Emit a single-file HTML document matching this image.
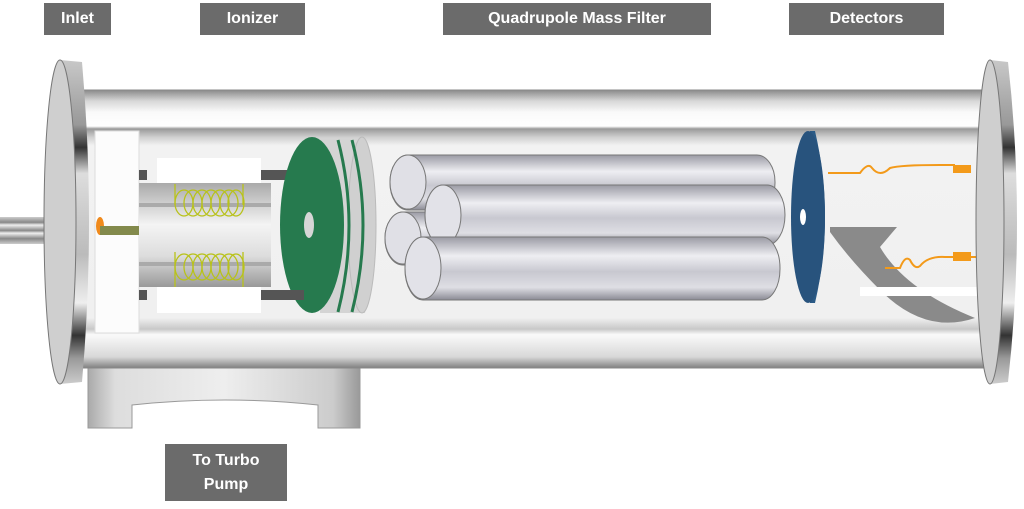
<!DOCTYPE html>
<html><head><meta charset="utf-8"><style>
body{margin:0;width:1024px;height:509px;background:#fff;overflow:hidden;font-family:"Liberation Sans",sans-serif}
.l{position:absolute;background:#6b6b6b;color:#fff;font-weight:bold;font-size:16px;display:flex;align-items:center;justify-content:center;text-align:center;line-height:24px}
</style></head><body>
<svg width="1024" height="509" style="position:absolute;left:0;top:0">
<defs>
<linearGradient id="tube" x1="0" y1="0" x2="0" y2="1">
<stop offset="0" stop-color="#8a8a8a"/><stop offset="0.04" stop-color="#d8d8d8"/><stop offset="0.08" stop-color="#fafafa"/><stop offset="0.13" stop-color="#fff"/><stop offset="0.14" stop-color="#9a9a9a"/><stop offset="0.17" stop-color="#d0d0d0"/><stop offset="0.2" stop-color="#f2f2f2"/><stop offset="0.82" stop-color="#f0f0f0"/><stop offset="0.86" stop-color="#c8c8c8"/><stop offset="0.88" stop-color="#fafafa"/><stop offset="0.96" stop-color="#d8d8d8"/><stop offset="1" stop-color="#808080"/></linearGradient>
<linearGradient id="rim" x1="0" y1="0" x2="0" y2="1">
<stop offset="0" stop-color="#c8c8c8"/><stop offset="0.2" stop-color="#999"/><stop offset="0.27" stop-color="#333"/><stop offset="0.35" stop-color="#ddd"/><stop offset="0.6" stop-color="#bbb"/><stop offset="0.75" stop-color="#eee"/><stop offset="0.85" stop-color="#333"/><stop offset="0.92" stop-color="#999"/><stop offset="1" stop-color="#ccc"/></linearGradient>
<linearGradient id="rod" x1="0" y1="0" x2="0" y2="1">
<stop offset="0" stop-color="#9a9aa4"/><stop offset="0.3" stop-color="#eeeef2"/><stop offset="0.55" stop-color="#c8c8d0"/><stop offset="0.8" stop-color="#dedee4"/><stop offset="1" stop-color="#8a8a94"/></linearGradient>
<linearGradient id="cyl" x1="0" y1="0" x2="0" y2="1">
<stop offset="0" stop-color="#aaa"/><stop offset="0.4" stop-color="#f4f4f4"/><stop offset="0.7" stop-color="#ddd"/><stop offset="1" stop-color="#999"/></linearGradient>
<linearGradient id="pump" x1="0" y1="0" x2="1" y2="0">
<stop offset="0" stop-color="#aaa"/><stop offset="0.1" stop-color="#ddd"/><stop offset="0.5" stop-color="#eee"/><stop offset="0.9" stop-color="#ccc"/><stop offset="1" stop-color="#999"/></linearGradient>
<linearGradient id="pin" x1="0" y1="0" x2="0" y2="1">
<stop offset="0" stop-color="#ccc"/><stop offset="0.2" stop-color="#888"/><stop offset="0.3" stop-color="#eee"/><stop offset="0.5" stop-color="#888"/><stop offset="0.6" stop-color="#eee"/><stop offset="0.8" stop-color="#888"/><stop offset="1" stop-color="#ccc"/></linearGradient>
</defs>
<path d="M88 366 H360 V428 H318 V405 Q225 395 132 405 V428 H88 Z" fill="url(#pump)" stroke="#999"/>
<rect x="80" y="90" width="910" height="278" fill="url(#tube)" stroke="#888"/>
<rect x="0" y="217" width="52" height="27" fill="url(#pin)"/>
<path d="M60 60 L82 62 Q96 222 82 382 L60 384 Z" fill="url(#rim)"/>
<ellipse cx="60" cy="222" rx="16" ry="162" fill="#cfcfcf" stroke="#777"/>
<rect x="95" y="131" width="44" height="202" fill="#fcfcfc" stroke="#ddd"/>
<ellipse cx="100" cy="226" rx="4" ry="9" fill="#f08a1c"/>
<rect x="100" y="226" width="66" height="9" fill="#838a4c"/>
<rect x="157" y="158" width="104" height="25" fill="#fff"/>
<rect x="157" y="287" width="104" height="26" fill="#fff"/>
<rect x="139" y="170" width="8" height="10" fill="#555"/>
<rect x="139" y="290" width="8" height="10" fill="#555"/>
<rect x="261" y="170" width="35" height="10" fill="#555"/>
<rect x="261" y="290" width="42" height="10" fill="#555"/>
<rect x="139" y="183" width="132" height="104" fill="url(#cyl)"/>
<rect x="139" y="203" width="132" height="4" fill="#aaa"/>
<rect x="139" y="262" width="132" height="4" fill="#aaa"/>
<g fill="none" stroke="#b8c21a" stroke-width="1.3">
<path d="M175 184 V205 M243 184 V205 M175 252 V287 M243 252 V287"/>
<g id="c1"><ellipse cx="184" cy="203" rx="9" ry="13"/><ellipse cx="193" cy="203" rx="9" ry="13"/><ellipse cx="202" cy="203" rx="9" ry="13"/><ellipse cx="211" cy="203" rx="9" ry="13"/><ellipse cx="220" cy="203" rx="9" ry="13"/><ellipse cx="229" cy="203" rx="9" ry="13"/><ellipse cx="236" cy="203" rx="8" ry="13"/></g>
<use href="#c1" y="64"/>
</g>
<path d="M320 138 H365 Q380 226 365 313 H320 Z" fill="#d4d4d4"/>
<ellipse cx="362" cy="225" rx="14" ry="88" fill="#d0d0d0" stroke="#bbb"/>
<path d="M338 140 Q360 225 338 312" stroke="#267a4e" stroke-width="3" fill="none"/>
<path d="M352 140 Q374 225 352 312" stroke="#267a4e" stroke-width="3" fill="none"/>
<ellipse cx="312" cy="225" rx="32" ry="88" fill="#267a4e"/>
<ellipse cx="309" cy="225" rx="5" ry="13" fill="#d6d6d6"/>
<rect x="279" y="290" width="25" height="10" fill="#555"/>
<g stroke="#777" stroke-width="1">
<rect x="390" y="155" width="385" height="55" rx="18" ry="27" fill="url(#rod)"/><ellipse cx="408" cy="182" rx="18" ry="27" fill="#e0e0e6"/>
<rect x="385" y="212" width="385" height="53" rx="18" ry="26" fill="url(#rod)"/><ellipse cx="403" cy="238" rx="18" ry="26" fill="#e0e0e6"/>
<rect x="425" y="185" width="360" height="60" rx="18" ry="30" fill="url(#rod)"/><ellipse cx="443" cy="215" rx="18" ry="30" fill="#e2e2e8"/>
<rect x="405" y="237" width="375" height="63" rx="18" ry="31" fill="url(#rod)"/><ellipse cx="423" cy="268" rx="18" ry="31" fill="#e2e2e8"/>
</g>
<path d="M830 227 H897 L880 247 Q905 290 975 318 Q925 335 880 290 Q850 260 830 232 Z" fill="#8a8a8a"/>
<rect x="860" y="287" width="130" height="9" fill="#fff"/>
<g fill="none" stroke="#f39a1a" stroke-width="2">
<path d="M828 173 H860 Q868 162 872 168 Q880 178 890 168 Q900 165 940 165 H955"/>
<path d="M885 268 H900 Q905 255 910 260 Q915 270 920 266 Q928 256 945 257 H985"/>
</g>
<rect x="953" y="165" width="18" height="8" fill="#f39a1a"/>
<rect x="953" y="252" width="18" height="9" fill="#f39a1a"/>
<path d="M810 131 H815 Q835 217 815 303 H810 Z" fill="#2a5a86"/>
<ellipse cx="808" cy="217" rx="17" ry="86" fill="#28537d"/>
<ellipse cx="803" cy="217" rx="3" ry="8" fill="#fff"/>
<path d="M990 60 L1008 62 Q1026 222 1008 382 L990 384 Z" fill="url(#rim)"/>
<ellipse cx="990" cy="222" rx="14" ry="162" fill="#cfcfcf" stroke="#777"/>
</svg>
<div class="l" style="left:44px;top:3px;width:67px;height:32px">Inlet</div>
<div class="l" style="left:200px;top:3px;width:105px;height:32px">Ionizer</div>
<div class="l" style="left:443px;top:3px;width:268px;height:32px">Quadrupole Mass Filter</div>
<div class="l" style="left:789px;top:3px;width:155px;height:32px">Detectors</div>
<div class="l" style="left:165px;top:444px;width:122px;height:57px">To Turbo<br>Pump</div>
</body></html>
